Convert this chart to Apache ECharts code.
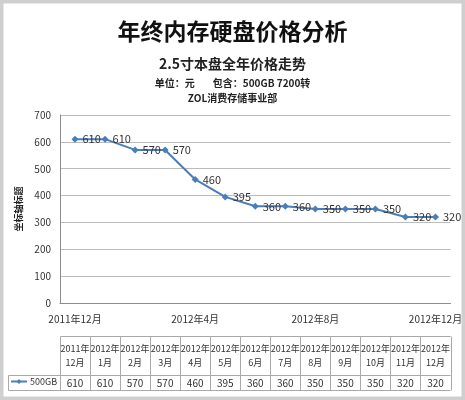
<!DOCTYPE html>
<html><head><meta charset="utf-8">
<script src="https://cdn.jsdelivr.net/npm/echarts@6/dist/echarts.min.js"></script>
<style>html,body{margin:0;padding:0;background:#fff}#c{width:465px;height:400px}</style>
</head><body><div id="c"></div>
<script>
const categories = ['2011年12月','2012年1月','2012年2月','2012年3月','2012年4月','2012年5月','2012年6月','2012年7月','2012年8月','2012年9月','2012年10月','2012年11月','2012年12月'];
const seriesName = '500GB';
const values = [610, 610, 570, 570, 460, 395, 360, 360, 350, 350, 350, 320, 320];
const yTicks = [0, 100, 200, 300, 400, 500, 600, 700];
const titleText = '年终内存硬盘价格分析';
const subText = '2.5寸本盘全年价格走势';
const unitText = '单位：元        包含：500GB 7200转';
const deptText = 'ZOL消费存储事业部';
const yName = '坐标轴标题';

const FONT = '"Noto Sans CJK SC", "Microsoft YaHei", sans-serif';
const LINE_COLOR = '#4a7ebb';
const chart = echarts.init(document.getElementById('c'));
const option = {
  animation: false,
  backgroundColor: '#fff',
  textStyle: { fontFamily: FONT },
  title: [
    { text: titleText, left: 'center', top: 15, textStyle: { fontSize: 23, fontWeight: 'bold', color: '#111', fontFamily: FONT } },
    { text: subText, left: 'center', top: 52, textStyle: { fontSize: 14, fontWeight: 'bold', color: '#222', fontFamily: FONT } },
    { text: unitText, left: 'center', top: 73, textStyle: { fontSize: 10, fontWeight: 'bold', color: '#222', fontFamily: FONT } },
    { text: deptText, left: 'center', top: 88, textStyle: { fontSize: 10, fontWeight: 'bold', color: '#222', fontFamily: FONT } }
  ],
  legend: {
    left: 10, top: 377, itemWidth: 16, itemHeight: 6, itemGap: 2, padding: 0,
    textStyle: { fontSize: 9, color: '#333', fontFamily: FONT, padding: [0, 0, 0, -2] },
    data: [seriesName]
  },
  grid: { left: 60, right: 11, top: 115, bottom: 97 },
  xAxis: {
    type: 'category', data: categories, boundaryGap: true,
    axisLine: { lineStyle: { color: '#8c8c8c' } },
    axisTick: { show: false },
    axisLabel: { interval: 3, margin: 11, fontSize: 10, color: '#333', fontFamily: FONT }
  },
  yAxis: {
    type: 'value', min: yTicks[0], max: yTicks[yTicks.length - 1], interval: yTicks[1] - yTicks[0],
    name: yName, nameLocation: 'middle', nameRotate: 90, nameGap: 36,
    nameTextStyle: { fontSize: 9, fontWeight: 'bold', color: '#222', fontFamily: FONT },
    axisLine: { show: true, lineStyle: { color: '#8c8c8c' } },
    axisTick: { show: false },
    splitLine: { lineStyle: { color: '#bcbcbc' } },
    axisLabel: { fontSize: 10, color: '#333', margin: 9, fontFamily: FONT }
  },
  series: [{
    name: seriesName, type: 'line', data: values,
    symbol: 'diamond', symbolSize: 7,
    itemStyle: { color: LINE_COLOR },
    lineStyle: { color: LINE_COLOR, width: 2 },
    label: { show: true, position: 'right', distance: 4, fontSize: 11, color: '#333', fontFamily: FONT }
  }]
};
chart.setOption(option);

// data table under the chart, aligned to the category axis
const n = categories.length;
const c0 = chart.convertToPixel({ xAxisIndex: 0 }, 0);
const c1 = chart.convertToPixel({ xAxisIndex: 0 }, 1);
const w = c1 - c0;
const tLeft = Math.round(c0 - w / 2) + 0.5;
const tRight = c0 + w * (n - 0.5);
const yTop = 336.5, yMid = 375.5, yBot = 390.5, legLeft = 8.5;
const stroke = { stroke: '#a9a9a9', lineWidth: 1 };
const gs = [];
gs.push({ type: 'line', shape: { x1: tLeft, y1: yTop, x2: tRight, y2: yTop }, style: stroke });
gs.push({ type: 'line', shape: { x1: legLeft, y1: yMid, x2: tRight, y2: yMid }, style: stroke });
gs.push({ type: 'line', shape: { x1: legLeft, y1: yBot, x2: tRight, y2: yBot }, style: stroke });
gs.push({ type: 'line', shape: { x1: legLeft, y1: yMid, x2: legLeft, y2: yBot }, style: stroke });
for (let i = 0; i <= n; i++) {
  const x = Math.round(c0 - w / 2 + i * w) + 0.5;
  gs.push({ type: 'line', shape: { x1: x, y1: yTop, x2: x, y2: yBot }, style: stroke });
}
categories.forEach((cat, i) => {
  const cx = c0 + i * w;
  const k = cat.indexOf('年') + 1;
  gs.push({ type: 'text', x: cx, y: 356, style: { text: cat.slice(0, k) + '\n' + cat.slice(k), align: 'center', verticalAlign: 'middle', lineHeight: 14, font: '9px ' + FONT, fill: '#333' } });
  gs.push({ type: 'text', x: cx, y: 383, style: { text: String(values[i]), align: 'center', verticalAlign: 'middle', font: '10px ' + FONT, fill: '#333' } });
});
// outer frame
gs.push({ type: 'rect', shape: { x: 0, y: 0, width: 465, height: 400 }, style: { fill: 'none', stroke: '#cfcfcf', lineWidth: 7 }, z: 100 });
chart.setOption({ graphic: gs });
</script></body></html>
